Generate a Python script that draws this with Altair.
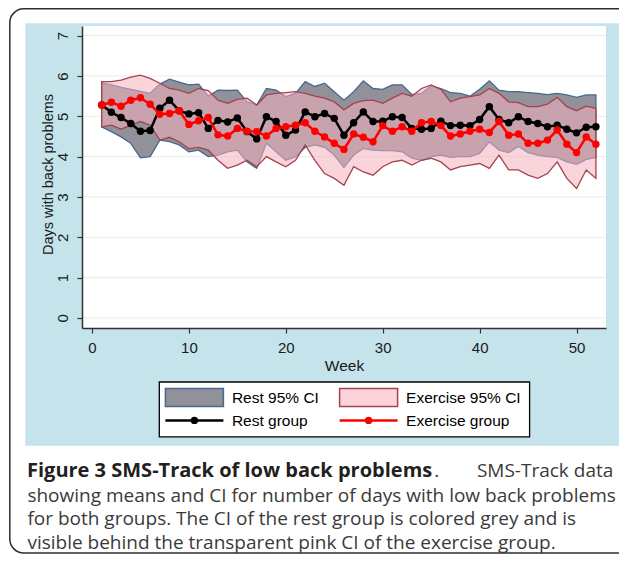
import altair as alt
import pandas as pd

# ---------------- data ----------------
weeks = list(range(1, 53))

rest_mean = [5.28, 5.10, 4.97, 4.82, 4.63, 4.65, 5.20, 5.40, 5.14, 5.06,
             5.09, 4.70, 4.90, 4.86, 4.96, 4.62, 4.44, 4.99, 4.87, 4.53,
             4.66, 5.11, 4.99, 5.07, 4.95, 4.53, 4.84, 5.11, 4.87, 4.88,
             4.99, 4.97, 4.70, 4.68, 4.70, 4.88, 4.77, 4.78, 4.77, 4.92,
             5.24, 4.92, 4.84, 4.99, 4.87, 4.82, 4.74, 4.78, 4.68, 4.59,
             4.73, 4.74]
rest_lo = [4.74, 4.62, 4.49, 4.33, 3.97, 4.00, 4.41, 4.37, 4.29, 4.12,
           4.16, 4.00, 4.04, 4.12, 4.16, 3.87, 3.71, 4.33, 4.12, 3.91,
           4.00, 4.23, 4.29, 4.23, 4.04, 3.73, 4.04, 4.20, 4.16, 4.15,
           4.15, 4.12, 3.96, 3.91, 4.00, 4.04, 3.98, 4.00, 4.00, 4.08,
           4.37, 4.16, 4.10, 4.25, 4.10, 4.04, 4.00, 3.98, 3.87, 3.81,
           3.93, 3.98]
rest_hi = [5.83, 5.78, 5.72, 5.67, 5.62, 5.57, 5.80, 5.92, 5.85, 5.78,
           5.80, 5.50, 5.65, 5.64, 5.65, 5.36, 5.28, 5.69, 5.65, 5.49,
           5.57, 5.86, 5.74, 5.82, 5.61, 5.40, 5.61, 5.88, 5.69, 5.67,
           5.78, 5.78, 5.54, 5.57, 5.75, 5.69, 5.59, 5.57, 5.50, 5.67,
           5.88, 5.65, 5.61, 5.61, 5.59, 5.57, 5.54, 5.57, 5.53, 5.47,
           5.53, 5.53]

exer_mean = [5.28, 5.35, 5.25, 5.40, 5.46, 5.30, 5.05, 5.07, 5.14, 4.80,
             4.89, 4.97, 4.54, 4.51, 4.70, 4.63, 4.62, 4.51, 4.70, 4.74,
             4.78, 4.84, 4.63, 4.49, 4.33, 4.18, 4.56, 4.48, 4.37, 4.77,
             4.63, 4.74, 4.63, 4.84, 4.87, 4.77, 4.51, 4.56, 4.63, 4.68,
             4.60, 4.87, 4.53, 4.56, 4.33, 4.33, 4.41, 4.66, 4.31, 4.10,
             4.49, 4.31]
exer_lo = [4.74, 4.78, 4.68, 4.78, 4.87, 4.78, 4.41, 4.48, 4.37, 4.20,
           4.23, 4.16, 3.91, 3.71, 3.79, 3.91, 3.75, 4.00, 3.87, 3.75,
           3.91, 4.29, 3.91, 3.58, 3.46, 3.29, 3.75, 3.62, 3.54, 3.75,
           3.87, 3.91, 3.79, 3.91, 3.96, 3.87, 3.67, 3.75, 3.79, 3.83,
           3.71, 4.04, 3.67, 3.67, 3.54, 3.46, 3.58, 3.87, 3.46, 3.21,
           3.67, 3.46]
exer_hi = [5.86, 5.86, 5.90, 5.97, 6.02, 5.94, 5.82, 5.69, 5.65, 5.57,
           5.69, 5.64, 5.40, 5.32, 5.42, 5.45, 5.28, 5.53, 5.57, 5.59,
           5.61, 5.57, 5.50, 5.45, 5.36, 5.16, 5.32, 5.39, 5.40, 5.32,
           5.45, 5.57, 5.50, 5.69, 5.78, 5.67, 5.36, 5.45, 5.49, 5.53,
           5.69, 5.57, 5.36, 5.34, 5.24, 5.24, 5.30, 5.47, 5.24, 5.14,
           5.25, 5.20]

series_names = ["Rest 95% CI", "Exercise 95% CI", "Rest group", "Exercise group"]
y_ticks = [0, 1, 2, 3, 4, 5, 6, 7]
x_ticks = [0, 10, 20, 30, 40, 50]
x_title = "Week"
y_title = "Days with back problems"

caption_bold = "Figure 3 SMS-Track of low back problems"
caption_dot = "."
caption_line1_end = "SMS-Track data"
caption_lines = [
    "showing means and CI for number of days with low back problems",
    "for both groups. The CI of the rest group is colored grey and is",
    "visible behind the transparent pink CI of the exercise group.",
]

# ---------------- styling ----------------
GREY = "#929199"
PINK_FILL = "#f4b0be"
PINK_LEGEND = "#fcd3da"
BLUE_EDGE = "#46698f"
RED_EDGE = "#a3434f"
BG_BLUE = "#c4e3eb"
FONT = "Liberation Sans"
swatch_fill = [GREY, PINK_LEGEND, "#000000", "#ff0000"]
swatch_edge = [BLUE_EDGE, RED_EDGE, "#000000", "#ff0000"]

W, H = 524, 302

x_scale = alt.Scale(domain=[-1.03, 53.04], nice=False, zero=False)
y_scale = alt.Scale(domain=[-0.25, 7.24], nice=False, zero=False)

band_fill_scale = alt.Scale(domain=series_names[:2], range=[GREY, PINK_FILL])
edge_scale = alt.Scale(domain=series_names, range=swatch_edge)
dot_scale = alt.Scale(domain=series_names, range=swatch_fill)

x_axis = alt.Axis(values=x_ticks, grid=False, domainColor="#333333", domainWidth=1.5,
                  tickColor="#333333", tickWidth=1.2, tickSize=5, labelFlush=False,
                  labelFont=FONT, labelFontSize=15, labelColor="#1a1a1a",
                  labelPadding=7, labelBaseline="top",
                  titleFont=FONT, titleFontSize=15.5, titleFontWeight="normal",
                  titleColor="#1a1a1a", titleX=W / 2, titleY=42,
                  titleAlign="center", titleBaseline="alphabetic", zindex=1)
y_axis = alt.Axis(values=y_ticks, grid=False, domainColor="#333333", domainWidth=1.5,
                  tickColor="#333333", tickWidth=1.2, tickSize=5, labelFlush=False,
                  labelFont=FONT, labelFontSize=15, labelColor="#1a1a1a",
                  labelAngle=270, labelAlign="center", labelBaseline="alphabetic",
                  labelPadding=10,
                  titleFont=FONT, titleFontSize=14.5, titleFontWeight="normal",
                  titleColor="#1a1a1a", titleX=-34, titleY=148, titleAngle=270,
                  titleAlign="center", titleBaseline="middle", zindex=1)

# ---------------- tables ----------------
rest_band_df = pd.DataFrame({"week": weeks, "lo": rest_lo, "hi": rest_hi, "band": series_names[0]})
exer_band_df = pd.DataFrame({"week": weeks, "lo": exer_lo, "hi": exer_hi, "band": series_names[1]})
rest_df = pd.DataFrame({"week": weeks, "mean": rest_mean, "series": series_names[2]})
exer_df = pd.DataFrame({"week": weeks, "mean": exer_mean, "series": series_names[3]})
one = pd.DataFrame({"k": [0]})

X = alt.X("week:Q", scale=x_scale, axis=x_axis, title=x_title)


def Y(field):
    return alt.Y(f"{field}:Q", scale=y_scale, axis=y_axis, title=y_title)


# ---------------- decoration ----------------
bg = alt.Chart(one).mark_rect(color=BG_BLUE).encode(
    x=alt.value(-56.7), x2=alt.value(539), y=alt.value(-2.7), y2=alt.value(419.7))
frame = alt.Chart(one).mark_rect(fill="transparent", stroke="#2e2e2e", strokeWidth=1.5,
                                 cornerRadius=14).encode(
    x=alt.value(-72.2), x2=alt.value(580), y=alt.value(-17.2), y2=alt.value(527))
plot_bg = alt.Chart(one).mark_rect(color="#ffffff").encode(
    x=alt.value(0), x2=alt.value(W), y=alt.value(0), y2=alt.value(H))
grid = alt.Chart(pd.DataFrame({"v": y_ticks})).mark_rule(color="#ebebeb", strokeWidth=1).encode(
    y=Y("v"))


# ---------------- data layers ----------------
def band_layer(df, opacity):
    return alt.Chart(df).mark_area(fillOpacity=opacity, strokeWidth=1.3).encode(
        x=X, y=Y("lo"), y2="hi:Q",
        fill=alt.Fill("band:N", scale=band_fill_scale, legend=None),
        stroke=alt.Stroke("band:N", scale=edge_scale, legend=None))


def line_layer(df):
    return alt.Chart(df).mark_line(strokeWidth=2.5).encode(
        x=X, y=Y("mean"),
        stroke=alt.Stroke("series:N", scale=edge_scale, legend=None))


def point_layer(df):
    return alt.Chart(df).mark_circle(size=55, opacity=1).encode(
        x=X, y=Y("mean"),
        color=alt.Color("series:N", scale=dot_scale, legend=None))


# ---------------- legend (drawn as marks, 2 x 2 grid) ----------------
LEG_X0, LEG_Y0, LEG_X1, LEG_Y1 = 77.3, 356, 447.6, 410.8
COL_X = [83.4, 257.6]       # left edge of the symbol in each column
ROW_Y = [371.5, 394.4]      # centre of each row
SYM_W, SYM_H = 58, 18

legend_layers = [
    alt.Chart(one).mark_rect(fill="#ffffff", stroke="#000000", strokeWidth=1.3).encode(
        x=alt.value(LEG_X0), x2=alt.value(LEG_X1), y=alt.value(LEG_Y0), y2=alt.value(LEG_Y1))
]
for i, name in enumerate(series_names):
    cx, cy = COL_X[i % 2], ROW_Y[i // 2]
    if "CI" in name:
        legend_layers.append(
            alt.Chart(one).mark_rect(fill=swatch_fill[i], stroke=swatch_edge[i], strokeWidth=1.5).encode(
                x=alt.value(cx), x2=alt.value(cx + SYM_W),
                y=alt.value(cy - SYM_H / 2), y2=alt.value(cy + SYM_H / 2)))
    else:
        legend_layers.append(
            alt.Chart(one).mark_rule(color=swatch_edge[i], strokeWidth=2.5).encode(
                x=alt.value(cx), x2=alt.value(cx + SYM_W), y=alt.value(cy)))
        legend_layers.append(
            alt.Chart(one).mark_circle(color=swatch_fill[i], size=55, opacity=1).encode(
                x=alt.value(cx + SYM_W / 2), y=alt.value(cy)))
    legend_layers.append(
        alt.Chart(one).mark_text(align="left", baseline="middle", font=FONT, fontSize=15.5,
                                 color="#000000").encode(
            x=alt.value(cx + SYM_W + 8.5), y=alt.value(cy + 0.5), text=alt.value(name)))

# ---------------- caption ----------------
CAP_FONT = "Open Sans"
cap_bold = alt.Chart(one).mark_text(align="left", baseline="alphabetic", font=CAP_FONT,
                                    fontSize=20, fontWeight="bold", color="#231f20").encode(
    x=alt.value(-55), y=alt.value(451), text=alt.value(caption_bold))
cap_dot = alt.Chart(one).mark_text(align="left", baseline="alphabetic", font=CAP_FONT,
                                   fontSize=19, color="#3a3a3a").encode(
    x=alt.value(352.3), y=alt.value(451), text=alt.value(caption_dot))
cap_end = alt.Chart(one).mark_text(align="right", baseline="alphabetic", font=CAP_FONT,
                                   fontSize=19, color="#3a3a3a").encode(
    x=alt.value(531.3), y=alt.value(451), text=alt.value(caption_line1_end))
cap_lines = alt.Chart(one).mark_text(align="left", baseline="alphabetic", font=CAP_FONT,
                                     fontSize=19, color="#3a3a3a", lineBreak="\n",
                                     lineHeight=23.7).encode(
    x=alt.value(-54.6), y=alt.value(475.5), text=alt.value("\n".join(caption_lines)))

chart = alt.layer(
    bg, frame, plot_bg, grid,
    band_layer(rest_band_df, 1), band_layer(exer_band_df, 0.55),
    line_layer(rest_df), point_layer(rest_df),
    line_layer(exer_df), point_layer(exer_df),
    *legend_layers,
    cap_bold, cap_dot, cap_end, cap_lines,
).properties(
    width=W, height=H,
    autosize=alt.AutoSizeParams(type="none"),
    padding={"left": 74, "top": 18, "right": 13, "bottom": 226},
    background="#ffffff",
).configure_view(stroke=None)

chart.save("out.html", embed_options={"renderer": "svg", "actions": False})
